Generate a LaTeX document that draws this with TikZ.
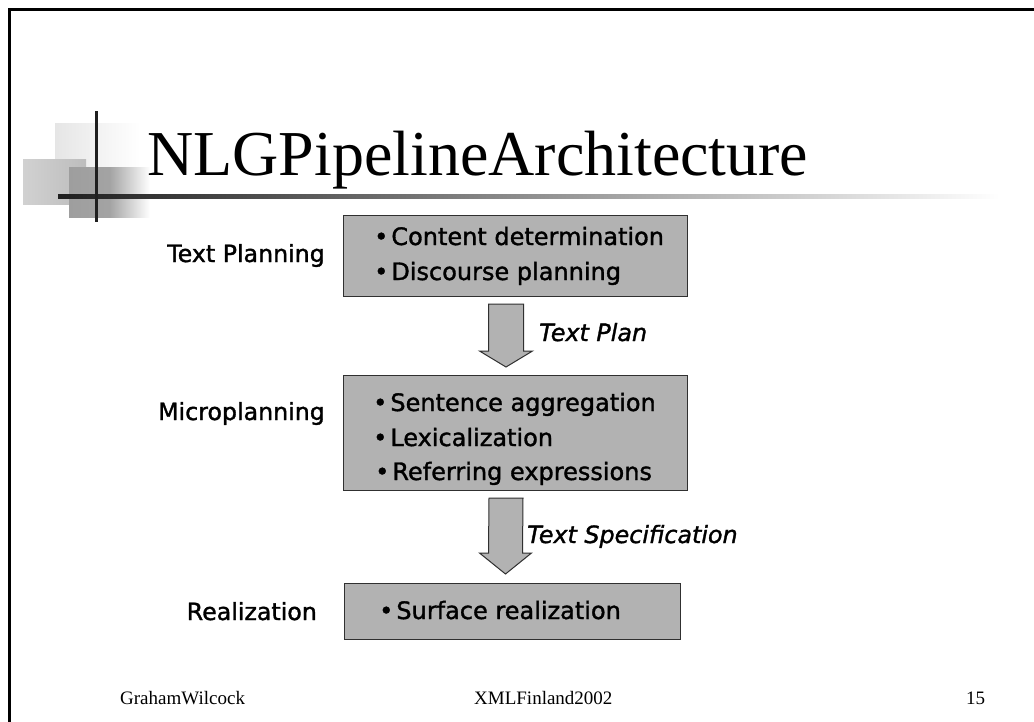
\documentclass[tikz,border=0pt]{standalone}
\usepackage{fontspec}
\setmainfont{Liberation Serif}
\newfontfamily\djv[FakeBold=1.4]{DejaVu Sans}
\usetikzlibrary{calc}
\definecolor{boxgray}{HTML}{B2B2B2}
\definecolor{edgegray}{HTML}{303030}
\tikzset{
  stagebox/.style={draw=edgegray, line width=1pt, fill=boxgray, inner sep=0pt, anchor=north west},
  item/.style={anchor=base west, inner sep=0pt, font=\djv\fontsize{24}{27}\selectfont},
  stagelabel/.style={anchor=base east, inner sep=0pt, font=\djv\fontsize{23.7}{27}\selectfont},
  flowlabel/.style={anchor=base west, inner sep=0pt, font=\djv\itshape\fontsize{23.8}{26}\selectfont},
  footer/.style={anchor=base west, inner sep=0pt, font=\fontsize{19}{22}\selectfont},
  blockarrow/.style={draw=edgegray, line width=1pt, fill=boxgray},
}
\begin{document}
\begin{tikzpicture}[x=1pt, y=-1pt]
\useasboundingbox (0,0) rectangle (1034,721);
\fill[white] (0,0) rectangle (1034,721);
% frame
\draw[line width=3pt, black] (1040,9.5) -- (9.5,9.5) -- (9.5,730);
% decoration
\shade[left color=black!10, right color=white] (55,123) rectangle (140,195);
\shade[left color=black!18, right color=black!26] (23,159) rectangle (86,204);
\shade[left color=black!38, right color=white, middle color=black!36] (69,167) rectangle (150,217);
\shade[left color=black!88, middle color=black!38, right color=white] (58,194.5) rectangle (1000,198);
\fill[black!88] (94.5,111) rectangle (97.5,222);
% title
\node[anchor=base west, inner sep=0pt, font=\fontsize{64}{70}\selectfont] (title) at (147,175) {NLGPipelineArchitecture};
% boxes
\node[stagebox, minimum width=344pt, minimum height=81pt] (b1) at (343,215) {};
\node[stagebox, minimum width=344pt, minimum height=115pt] (b2) at (343,375) {};
\node[stagebox, minimum width=336pt, minimum height=56pt] (b3) at (344,583) {};
% box texts
\node[item] (t1) at (374,245) {•\hspace{3pt}Content determination};
\node[item] (t2) at (374,280) {•\hspace{3pt}Discourse planning};
\node[item] (t3) at (373,411) {•\hspace{3pt}Sentence aggregation};
\node[item] (t4) at (373,446) {•\hspace{3pt}Lexicalization};
\node[item] (t5) at (375,480) {•\hspace{3pt}Referring expressions};
\node[item] (t6) at (379,619) {•\hspace{3pt}Surface realization};
% stage labels
\node[stagelabel] (l1) at (325,262) {Text Planning};
\node[stagelabel] (l2) at (325,420) {Microplanning};
\node[stagelabel] (l3) at (317,620) {Realization};
% arrows
\coordinate (a1s) at ($(b1.south)+(-9.5,7)$);
\coordinate (a1t) at ($(b2.north)+(-9.5,-8)$);
\draw[blockarrow] ($(a1s)+(-17.5,0)$) -- ($(a1s)+(17.5,0)$) -- ($(a1t)+(17.5,-16)$) -- ($(a1t)+(26.5,-16)$) -- (a1t) -- ($(a1t)+(-26.5,-16)$) -- ($(a1t)+(-17.5,-16)$) -- cycle;
\coordinate (a2s) at ($(b2.south)+(-9.5,7)$);
\coordinate (a2t) at ($(b3.north)+(-7,-9)$);
\draw[blockarrow] ($(a2s)+(-17,0)$) -- ($(a2s)+(17,0)$) -- ($(a2t)+(17,-21)$) -- ($(a2t)+(26,-21)$) -- (a2t) -- ($(a2t)+(-26,-21)$) -- ($(a2t)+(-17,-21)$) -- cycle;
\node[flowlabel] (f1) at (539,341) {Text Plan};
\node[flowlabel] (f2) at (527,543) {Text Specification};
% footer
\node[footer] (g) at (120,704) {GrahamWilcock};
\node[footer] (x) at (474,704) {XMLFinland2002};
\node[footer] (n) at (966,704) {15};
\end{tikzpicture}
\end{document}
